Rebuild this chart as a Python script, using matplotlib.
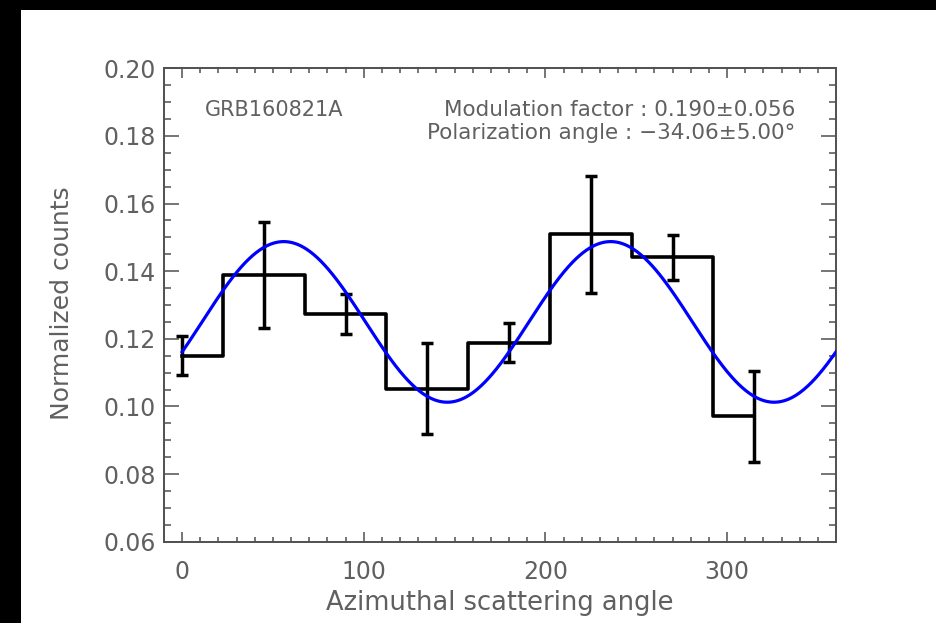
import numpy as np
import matplotlib
matplotlib.use("Agg")
import matplotlib.pyplot as plt
from matplotlib.patches import Rectangle

# ---- data ----
angles = [0, 45, 90, 135, 180, 225, 270, 315]
counts = [0.1150, 0.1389, 0.1273, 0.1053, 0.1188, 0.1509, 0.1441, 0.0971]
errors = [0.0058, 0.0157, 0.0060, 0.0134, 0.0058, 0.0173, 0.0066, 0.0135]

# fit parameters shown on the chart
mod_factor = 0.190
pol_angle = -34.06
mean_level = 0.125

grb_name = "GRB160821A"
text_mod = "Modulation factor : 0.190\u00b10.056"
text_pol = "Polarization angle : \u221234.06\u00b15.00\u00b0"

xticks = [0, 100, 200, 300]
yticks = [0.06, 0.08, 0.10, 0.12, 0.14, 0.16, 0.18, 0.20]

W, H = 936, 623
fig = plt.figure(figsize=(W / 100, H / 100), dpi=100, facecolor="white")
# black strips on the left and top
fig.patches.append(Rectangle((0, 0), 21 / W, 1, transform=fig.transFigure,
                             facecolor="black", edgecolor="none", zorder=-5))
fig.patches.append(Rectangle((0, 1 - 10 / H), 1, 10 / H, transform=fig.transFigure,
                             facecolor="black", edgecolor="none", zorder=-5))

ax = fig.add_axes([164 / W, 1 - 541.7 / H, 672 / W, 473.4 / H])
ax.set_facecolor("white")

txtcol = "#606060"
axcol = "#505050"

# histogram-like steps (IDL psym=10)
ax.plot(angles, counts, drawstyle="steps-mid", color="black", lw=2.6, zorder=3)
ax.errorbar(angles, counts, yerr=errors, fmt="none", ecolor="black",
            elinewidth=2.5, capsize=4, capthick=2.5, zorder=3)

# modulation curve
phi = np.linspace(0, 360, 721)
model = mean_level * (1 + mod_factor * np.cos(np.radians(2 * (phi - (pol_angle + 90)))))
ax.plot(phi, model, color="#0000ff", lw=2.3, zorder=4)

ax.set_xlim(-10, 360)
ax.set_ylim(0.06, 0.20)
ax.set_xticks(xticks)
ax.set_xticklabels([str(t) for t in xticks])
ax.set_xticks(np.arange(0, 360, 10), minor=True)
ax.set_yticks(yticks)
ax.set_yticklabels([f"{t:.2f}" for t in yticks])
ax.set_yticks(np.arange(0.06, 0.2001, 0.005), minor=True)

for s in ax.spines.values():
    s.set_color(axcol)
    s.set_linewidth(1.4)

ax.tick_params(axis="both", which="both", direction="in", top=True, right=True,
               color=axcol, width=1.1, labelcolor=txtcol)
ax.tick_params(axis="x", which="major", length=7, pad=13, labelsize=17)
ax.tick_params(axis="x", which="minor", length=3.6)
ax.tick_params(axis="y", which="major", length=10.5, pad=6, labelsize=17)
ax.tick_params(axis="y", which="minor", length=5.3)

fig.text(62 / W, 1 - 303 / H, "Normalized counts", rotation=90, ha="center",
         va="center", fontsize=18, color=txtcol)
fig.text(500 / W, 1 - 603 / H, "Azimuthal scattering angle", ha="center",
         va="center", fontsize=18.5, color=txtcol)

ax.text(0.061, 0.912, grb_name, transform=ax.transAxes, ha="left", va="center",
        fontsize=15, color=txtcol)
ax.text(0.940, 0.912, text_mod, transform=ax.transAxes, ha="right", va="center",
        fontsize=15.5, color=txtcol)
ax.text(0.940, 0.863, text_pol, transform=ax.transAxes, ha="right", va="center",
        fontsize=15.5, color=txtcol)

fig.savefig("out.png", dpi=100, facecolor=fig.get_facecolor())
